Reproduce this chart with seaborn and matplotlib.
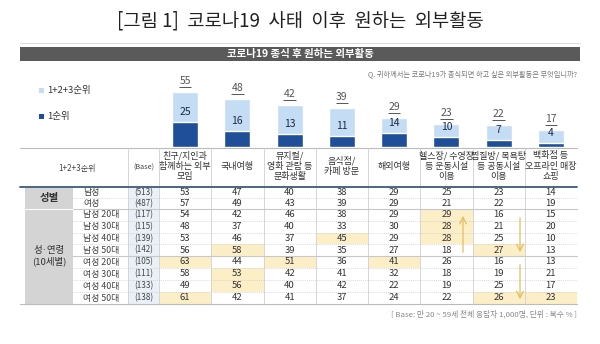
import matplotlib
matplotlib.use("Agg")
import matplotlib.pyplot as plt
from matplotlib.patches import Rectangle
import seaborn as sns
import pandas as pd

sns.set_theme(style="white")
plt.rcParams['font.family'] = ['Noto Sans CJK KR', 'DejaVu Sans']

# ---------------- data ----------------
categories = ["친구/지인과\n함께하는 외부\n모임", "국내여행", "뮤지컬/\n영화 관람 등\n문화생활",
              "음식점/\n카페 방문", "해외여행", "헬스장/ 수영장\n등 운동시설\n이용",
              "찜질방/ 목욕탕\n등 공동시설\n이용", "백화점 등\n오프라인 매장\n쇼핑"]
total_123 = [55, 48, 42, 39, 29, 23, 22, 17]
first_rank = [25, 16, 13, 11, 14, 10, 7, 4]

row_labels = ["남성", "여성", "남성 20대", "남성 30대", "남성 40대", "남성 50대",
              "여성 20대", "여성 30대", "여성 40대", "여성 50대"]
bases = [513, 487, 117, 115, 139, 142, 105, 111, 133, 138]
male = [53, 47, 40, 38, 29, 25, 23, 14]
female = [57, 49, 43, 39, 29, 21, 22, 19]
male20 = [54, 42, 46, 38, 29, 29, 16, 15]
male30 = [48, 37, 40, 33, 30, 28, 21, 20]
male40 = [53, 46, 37, 45, 29, 28, 25, 10]
male50 = [56, 58, 39, 35, 27, 18, 27, 13]
female20 = [63, 44, 51, 36, 41, 26, 16, 13]
female30 = [58, 53, 42, 41, 32, 18, 19, 21]
female40 = [49, 56, 40, 42, 22, 19, 25, 17]
female50 = [61, 42, 41, 37, 24, 22, 26, 23]
table_rows = [male, female, male20, male30, male40, male50,
              female20, female30, female40, female50]
# highlighted cells (row index, column index)
highlights = [(5, 1), (6, 0), (6, 2), (6, 4), (7, 1), (8, 1), (9, 0), (9, 6), (9, 7),
              (4, 3), (2, 5), (3, 5), (4, 5), (5, 6)]

LIGHT = "#c4dcf4"
DARK = "#1f4f99"
HIL = "#fcefc8"
ARROW = "#e5bf5e"

W, H = 600, 344
fig = plt.figure(figsize=(6.0, 3.44), dpi=100)
fig.patch.set_facecolor("white")

bg = fig.add_axes([0, 0, 1, 1])
bg.set_xlim(0, W)
bg.set_ylim(H, 0)
bg.axis("off")

# title & banner
bg.text(300, 21, "[그림 1]  코로나19  사태  이후  원하는  외부활동", ha="center", va="center",
        fontsize=13.5, color="#222222")
bg.plot([20, 580], [43, 43], color="#dddddd", lw=0.8)
bg.add_patch(Rectangle((20, 47), 560, 14, facecolor="#5a5a5a", edgecolor="none"))
bg.text(300, 54, "코로나19 종식 후 원하는 외부활동", ha="center", va="center",
        fontsize=7.5, color="white", fontweight="bold")
bg.text(577, 74, "Q. 귀하께서는 코로나19가 종식되면 하고 싶은 외부활동은 무엇입니까?",
        ha="right", va="center", fontsize=5.2, color="#777777")

# legend
bg.add_patch(Rectangle((39, 88), 5, 5, facecolor=LIGHT, edgecolor="none"))
bg.text(47, 90.5, "1+2+3순위", ha="left", va="center", fontsize=6.8, color="#333333")
bg.add_patch(Rectangle((39, 114), 5, 5, facecolor=DARK, edgecolor="none"))
bg.text(47, 116.5, "1순위", ha="left", va="center", fontsize=6.8, color="#333333")

# ---------------- bars ----------------
x_left, x_right = 159, 577
base_y, top_span = 147, 70
ax = fig.add_axes([x_left / W, (H - base_y) / H, (x_right - x_left) / W, top_span / H])
df = pd.DataFrame({"cat": categories, "total": total_123, "first": first_rank})
sns.barplot(data=df, x="cat", y="total", order=categories, color=LIGHT, width=0.5,
            saturation=1, ax=ax)
sns.barplot(data=df, x="cat", y="first", order=categories, color=DARK, width=0.5,
            saturation=1, ax=ax)
ax.set_xlim(-0.5, len(categories) - 0.5)
ax.set_ylim(0, top_span)
ax.axis("off")
for i, (t, f) in enumerate(zip(total_123, first_rank)):
    ax.text(i, t + 11, str(t), ha="center", va="center", fontsize=7.5, color="#555555")
    ax.hlines(t + 5.5, i - 0.12, i + 0.12, color="#555555", lw=0.7)
    ax.text(i, f + 10, str(f), ha="center", va="center", fontsize=7.5, color="#1c2b45")

# ---------------- table ----------------
col_edges = [159 + k * (x_right - 159) / 8 for k in range(9)]
col_centers = [(col_edges[k] + col_edges[k + 1]) / 2 for k in range(8)]
row_edges = [187, 198, 209]
row_edges += [209 + (256 - 209) / 4 * k for k in range(1, 5)]
row_edges += [256 + 12 * k for k in range(1, 5)]
row_centers = [(row_edges[k] + row_edges[k + 1]) / 2 for k in range(10)]

# base column fill
bg.add_patch(Rectangle((128, 187), 31, 304 - 187, facecolor="#e9f0f8", edgecolor="none"))
# highlights
for r, c in highlights:
    bg.add_patch(Rectangle((col_edges[c], row_edges[r]), col_edges[c + 1] - col_edges[c],
                           row_edges[r + 1] - row_edges[r], facecolor=HIL, edgecolor="none"))
# gray group cells
bg.add_patch(Rectangle((25, 187.5), 48, 21, facecolor="#d4d4d4", edgecolor="none"))
bg.add_patch(Rectangle((25, 209.5), 48, 94.5, facecolor="#d4d4d4", edgecolor="none"))
bg.text(49, 198, "성별", ha="center", va="center", fontsize=7.5, fontweight="bold", color="#333333")
bg.text(49, 256, "성·연령\n(10세별)", ha="center", va="center", fontsize=6.8,
        color="#333333", linespacing=1.2)

# lines
bg.plot([20, 577], [148, 148], color="#bbbbbb", lw=0.8)
for xv in [128] + col_edges[:-1]:
    bg.plot([xv, xv], [148, 304], color="#d0d0d0", lw=0.6)
bg.plot([20, 577], [187, 187], color="#4a6688", lw=1.4)
for yv in [209, 256]:
    bg.plot([73, 577], [yv, yv], color="#c8c8c8", lw=0.8)
for k in [1, 3, 4, 5, 7, 8, 9]:
    yv = row_edges[k]
    bg.plot([73, 577], [yv, yv], color="#cccccc", lw=0.5, ls=(0, (1.5, 1.5)))
bg.plot([20, 577], [304, 304], color="#bbbbbb", lw=0.8)

# header
bg.text(77, 168, "1+2+3순위", ha="center", va="center", fontsize=5.8, color="#444444")
bg.text(143.5, 168, "(Base)", ha="center", va="center", fontsize=5.2, color="#444444")
for c, lab in enumerate(categories):
    bg.text(col_centers[c], 166, lab, ha="center", va="center", fontsize=6.5,
            color="#333333", linespacing=1.15)

# body
for r in range(10):
    bg.text(83, row_centers[r], row_labels[r], ha="left", va="center", fontsize=6.4, color="#444444")
    bg.text(143.5, row_centers[r], f"({bases[r]})", ha="center", va="center", fontsize=5.8, color="#444444")
    for c in range(8):
        bg.text(col_centers[c], row_centers[r], str(table_rows[r][c]), ha="center",
                va="center", fontsize=6.8, color="#333333")

# arrows
bg.annotate("", xy=(463, 213), xytext=(463, 255),
            arrowprops=dict(arrowstyle="->", color=ARROW, lw=0.9))
bg.annotate("", xy=(520, 255), xytext=(520, 215),
            arrowprops=dict(arrowstyle="->", color=ARROW, lw=0.9))
bg.annotate("", xy=(520, 302), xytext=(520, 262),
            arrowprops=dict(arrowstyle="->", color=ARROW, lw=0.9))

bg.text(577, 314, "[ Base: 만 20 ~ 59세 전체 응답자 1,000명, 단위 : 복수 % ]", ha="right",
        va="center", fontsize=5.6, color="#888888")

fig.savefig("out.png", dpi=100, facecolor="white")
